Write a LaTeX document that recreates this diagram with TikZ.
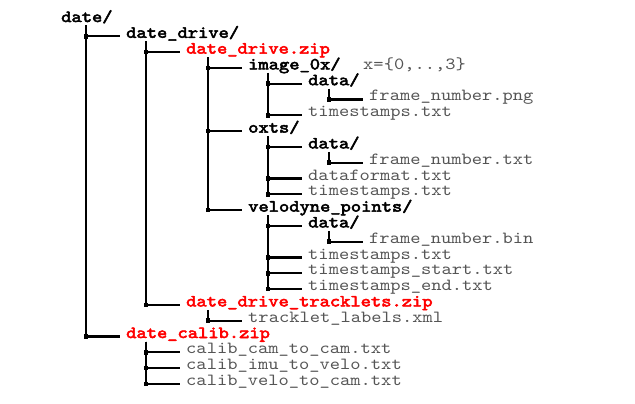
\documentclass[tikz,border=0pt]{standalone}
\usepackage{fontspec}
\newfontfamily\treereg{lmmono10-regular.otf}
\newfontfamily\treebold{lmmono10-regular.otf}[FakeBold=3]
\usetikzlibrary{calc}
\definecolor{filegray}{HTML}{555555}
\definecolor{zipred}{HTML}{FF0000}
\tikzset{
  entry/.style={anchor=base west, inner sep=0pt, xscale=1.15, font=\treereg\fontsize{17}{17}\selectfont},
  dirn/.style={entry, font=\treebold\fontsize{17}{17}\selectfont, text=black},
  zipn/.style={entry, font=\treebold\fontsize{17}{17}\selectfont, text=zipred},
  filen/.style={entry, text=filegray},
  conn/.style={line width=2.2pt, draw=black, line join=miter}
}
\newcommand\br[2]{%
  \path ($(#2.base west)+(-40,-1.5)$) coordinate (j#2)
        ($(#2.base west)+(-6,-1.5)$) coordinate (e#2)
        ($(#1.base west)+(0,3.5)$) coordinate (t#2);
  \draw[conn] (j#2 |- t#2) -- (j#2) -- (e#2);
  \fill (j#2) +(-2.3,-2.3) rectangle +(2.3,2.3);
}
\begin{document}
\begin{tikzpicture}[x=1pt,y=-1pt]
\useasboundingbox (0,0) rectangle (635,404);
\def\rh{15.8}
\node[dirn]  (n0)  at (61,  {22+0*\rh})  {date/};
\node[dirn]  (n1)  at (126, {22+1*\rh})  {date\_drive/};
\node[zipn]  (n2)  at (186, {22+2*\rh})  {date\_drive.zip};
\node[dirn]  (n3)  at (248, {22+3*\rh})  {image\_0x/};
\node[filen] (nx)  at (363, {22+3*\rh})  {x=\{0,..,3\}};
\node[dirn]  (n4)  at (308, {22+4*\rh})  {data/};
\node[filen] (n5)  at (369, {22+5*\rh})  {frame\_number.png};
\node[filen] (n6)  at (308, {22+6*\rh})  {timestamps.txt};
\node[dirn]  (n7)  at (248, {22+7*\rh})  {oxts/};
\node[dirn]  (n8)  at (308, {22+8*\rh})  {data/};
\node[filen] (n9)  at (369, {22+9*\rh})  {frame\_number.txt};
\node[filen] (n10) at (308, {22+10*\rh}) {dataformat.txt};
\node[filen] (n11) at (308, {22+11*\rh}) {timestamps.txt};
\node[dirn]  (n12) at (248, {22+12*\rh}) {velodyne\_points/};
\node[dirn]  (n13) at (308, {22+13*\rh}) {data/};
\node[filen] (n14) at (369, {22+14*\rh}) {frame\_number.bin};
\node[filen] (n15) at (308, {22+15*\rh}) {timestamps.txt};
\node[filen] (n16) at (308, {22+16*\rh}) {timestamps\_start.txt};
\node[filen] (n17) at (308, {22+17*\rh}) {timestamps\_end.txt};
\node[zipn]  (n18) at (186, {22+18*\rh}) {date\_drive\_tracklets.zip};
\node[filen] (n19) at (248, {22+19*\rh}) {tracklet\_labels.xml};
\node[zipn]  (n20) at (126, {22+20*\rh}) {date\_calib.zip};
\node[filen] (n21) at (186, {22+21*\rh}) {calib\_cam\_to\_cam.txt};
\node[filen] (n22) at (186, {22+22*\rh}) {calib\_imu\_to\_velo.txt};
\node[filen] (n23) at (186, {22+23*\rh}) {calib\_velo\_to\_cam.txt};
\br{n0}{n1}\br{n0}{n20}
\br{n1}{n2}\br{n1}{n18}
\br{n2}{n3}\br{n2}{n7}\br{n2}{n12}
\br{n3}{n4}\br{n3}{n6}
\br{n4}{n5}
\br{n7}{n8}\br{n7}{n10}\br{n7}{n11}
\br{n8}{n9}
\br{n12}{n13}\br{n12}{n15}\br{n12}{n16}\br{n12}{n17}
\br{n13}{n14}
\br{n18}{n19}
\br{n20}{n21}\br{n20}{n22}\br{n20}{n23}
\end{tikzpicture}
\end{document}
